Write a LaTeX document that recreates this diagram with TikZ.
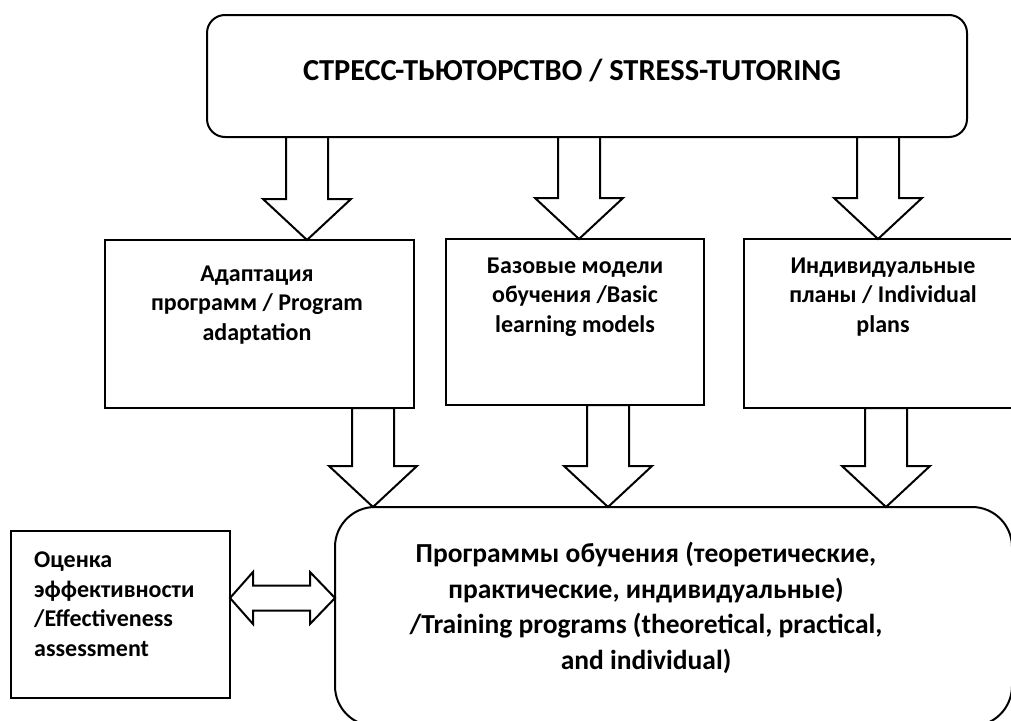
\documentclass[tikz,border=0pt]{standalone}
\usepackage{fontspec}
\setmainfont{Carlito}
\usetikzlibrary{calc}
\tikzset{
  box/.style={draw, line width=2pt, fill=white, inner sep=0pt, outer sep=0pt},
  rbox/.style={box, rounded corners=#1},
  lbl/.style={font=\bfseries\fontsize{24}{29.5}\selectfont, align=center, inner sep=0pt},
  big/.style={font=\bfseries\fontsize{27.5}{35.5}\selectfont, align=center, inner sep=0pt},
  title/.style={font=\bfseries\fontsize{30.5}{34}\selectfont, inner sep=0pt},
  barrow/.style={draw, line width=2pt, fill=white, line join=miter},
}
\newcommand\blockdown[2]{%
  \draw[barrow] let \p1=#1, \p2=#2 in
    (\x2-21pt,\y1) -- (\x2+21pt,\y1) -- (\x2+21pt,\y2+41pt) -- (\x2+44pt,\y2+41pt)
    -- (\x2,\y2) -- (\x2-44pt,\y2+41pt) -- (\x2-21pt,\y2+41pt) -- cycle;}
\newcommand\blockboth[2]{%
  \draw[barrow] let \p1=#1, \p2=#2 in
    (\x1,\y1) -- (\x1+23pt,\y1+26pt) -- (\x1+23pt,\y1+12.5pt) -- (\x2-25pt,\y1+12.5pt)
    -- (\x2-25pt,\y1+26pt) -- (\x2,\y2) -- (\x2-25pt,\y1-26pt) -- (\x2-25pt,\y1-12.5pt)
    -- (\x1+23pt,\y1-12.5pt) -- (\x1+23pt,\y1-26pt) -- cycle;}
\begin{document}
\begin{tikzpicture}[x=1pt,y=-1pt]
\clip (0,0) rectangle (1011,720);
\fill[white] (0,0) rectangle (1011,720);

% boxes
\node[rbox=18pt, minimum width=760pt, minimum height=122pt] (top) at (587,76) {};
\node[box, minimum width=309pt, minimum height=168pt] (a) at (259.5,324) {};
\node[box, minimum width=258pt, minimum height=166pt] (b) at (575,322) {};
\node[box, minimum width=276pt, minimum height=169pt] (c) at (882,323.5) {};
\node[rbox=40pt, minimum width=677pt, minimum height=219pt] (prog) at (673.5,616.5) {};
\node[box, minimum width=219pt, minimum height=167pt] (eval) at (120.5,614.5) {};

% arrow positions
\coordinate (c1) at (307,0);
\coordinate (c2) at (579,0);
\coordinate (c3) at (878,0);
\coordinate (c4) at (373,0);
\coordinate (c5) at (608,0);
\coordinate (c6) at (886,0);
\coordinate (cy) at (0,598);

\blockdown{(top.south -| c1)}{(a.north -| c1)}
\blockdown{(top.south -| c2)}{(b.north -| c2)}
\blockdown{(top.south -| c3)}{(c.north -| c3)}
\blockdown{(a.south -| c4)}{(prog.north -| c4)}
\blockdown{(b.south -| c5)}{(prog.north -| c5)}
\blockdown{(c.south -| c6)}{(prog.north -| c6)}
\blockboth{(eval.east |- cy)}{(prog.west |- cy)}

% texts
\node[title] (ttop) at (572,70) {СТРЕСС-ТЬЮТОРСТВО / STRESS-TUTORING};
\node[lbl] (ta) at (257,305) {Адаптация\\программ / Program\\adaptation};
\node[lbl] (tb) at (575,297) {Базовые модели\\обучения /Basic\\learning models};
\node[lbl] (tc) at (883,297) {Индивидуальные\\планы / Individual\\plans};
\node[lbl, align=left, anchor=west] (teval) at (34,604) {Оценка\\эффективности\\/Effectiveness\\assessment};
\node[big] (tprog) at (646,608) {Программы обучения (теоретические,\\практические, индивидуальные)\\/Training programs (theoretical, practical,\\and individual)};
\end{tikzpicture}
\end{document}
